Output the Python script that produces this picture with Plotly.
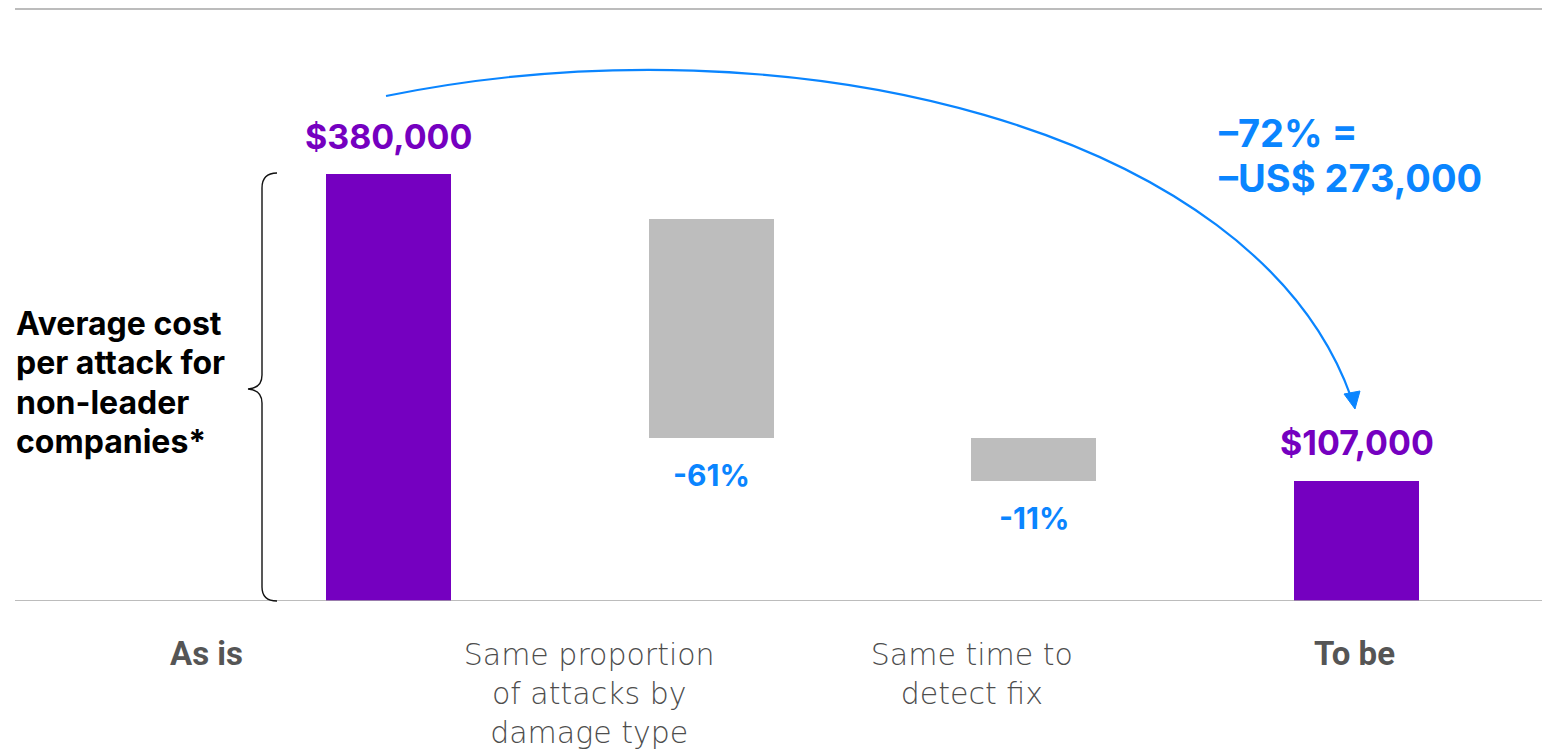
import plotly.graph_objects as go

# ---------------- data ----------------
categories = ["As is",
              "Same proportion<br>of attacks by<br>damage type",
              "Same time to<br>detect fix",
              "To be"]
category_bold = [True, False, False, True]
bar_kind = ["total", "change", "change", "total"]
bar_top = [380000, 340000, 145000, 107000]
bar_base = [0, 145000, 107000, 0]
bar_labels = ["$380,000", "-61%", "-11%", "$107,000"]
total_change_lines = ["–72% =", "–US$ 273,000"]
side_note_lines = ["Average cost", "per attack for", "non-leader", "companies*"]

# ---------------- style ----------------
PURPLE = "#7500C0"
GRAY_BAR = "#BDBDBD"
BLUE = "#0A85FF"
LABEL_GRAY = "#4D4D4D"
RULE_GRAY = "#A6A6A6"
OFF = 8                      # page body margin
W, H = 1550, 751             # window
FW, FH = W - OFF, H - OFF    # figure size
BASE_PX = 601                # baseline pixel row in the window
PLOT_H = BASE_PX - OFF       # plot area height


def px(x, y):
    """window pixel position -> paper coordinates (decorations only)"""
    return (x - OFF) / FW, 1 - (y - OFF) / PLOT_H


def path(cmds):
    out = []
    for c in cmds:
        if isinstance(c, str):
            out.append(c)
        else:
            xp, yp = px(*c)
            out.append(f"{xp:.5f},{yp:.5f}")
    return " ".join(out)


x_idx = list(range(len(categories)))
colors = [PURPLE if k == "total" else GRAY_BAR for k in bar_kind]
heights = [t - b for t, b in zip(bar_top, bar_base)]
BOLD_SPAN = '<span style="font-family:Roboto;font-weight:700;font-size:33px;fill:#555555">{}</span>'
ticktext = [BOLD_SPAN.format(c) if b else c for c, b in zip(categories, category_bold)]

fig = go.Figure()
fig.add_trace(go.Bar(
    x=x_idx, y=heights, base=bar_base, width=0.387,
    marker=dict(color=colors, line=dict(width=0)),
    hoverinfo="skip", showlegend=False,
))
# invisible trace carrying the category axis
fig.add_trace(go.Scatter(
    x=x_idx, y=[0] * len(x_idx), xaxis="x2", mode="markers",
    marker=dict(opacity=0), hoverinfo="skip", showlegend=False,
))

annotations = []
for i, kind in enumerate(bar_kind):
    if kind == "total":
        annotations.append(dict(
            x=i, y=bar_top[i], xref="x", yref="y", text=f"<b>{bar_labels[i]}</b>",
            showarrow=False, yanchor="middle", yshift=38,
            font=dict(family="Inter", size=34, color=PURPLE, weight=800)))
    else:
        annotations.append(dict(
            x=i, y=bar_base[i], xref="x", yref="y", text=f"<b>{bar_labels[i]}</b>",
            showarrow=False, yanchor="middle", yshift=-37,
            font=dict(family="Inter", size=30, color=BLUE, weight=800)))

for line, ypix in zip(total_change_lines, [133, 177.5]):
    xp, yp = px(1217, ypix)
    annotations.append(dict(
        x=xp, y=yp, xref="paper", yref="paper", text=f"<b>{line}</b>",
        showarrow=False, xanchor="left", yanchor="middle",
        font=dict(family="Inter", size=38, color=BLUE, weight=800)))

for k, line in enumerate(side_note_lines):
    xp, yp = px(14, 323 + 39.5 * k)
    annotations.append(dict(
        x=xp, y=yp, xref="paper", yref="paper", text=f"<b>{line}</b>",
        showarrow=False, xanchor="left", yanchor="middle", align="left",
        font=dict(family="Inter", size=32, color="#000000", weight=800)))

shapes = []
# top rule
x0p, y0p = px(15, 9)
x1p, _ = px(1545, 9)
shapes.append(dict(type="line", xref="paper", yref="paper", x0=x0p, x1=x1p, y0=y0p, y1=y0p,
                   line=dict(color=RULE_GRAY, width=1.5)))
# baseline
shapes.append(dict(type="line", xref="paper", yref="y", x0=x0p, x1=x1p, y0=0, y1=0,
                   line=dict(color=RULE_GRAY, width=1.5)))
# curly brace
brace = path(["M", (277, 173), "Q", (262, 173), (262, 188), "L", (262, 375),
              "Q", (262, 388), (248, 389), "Q", (262, 390), (262, 403),
              "L", (262, 587), "Q", (262, 601), (277, 601)])
shapes.append(dict(type="path", xref="paper", yref="paper", path=brace,
                   line=dict(color="#111111", width=1.4)))
# curved arrow
arc = path(["M", (386, 96), "C", (790, 14), (1255, 128), (1351, 397)])
shapes.append(dict(type="path", xref="paper", yref="paper", path=arc,
                   line=dict(color=BLUE, width=2.2)))
head = path(["M", (1344, 394), "L", (1360, 391), "L", (1355, 409), "Z"])
shapes.append(dict(type="path", xref="paper", yref="paper", path=head,
                   fillcolor=BLUE, line=dict(color=BLUE, width=1)))

# axis ranges: figure spans window pixels OFF..W
BAR_X0, BAR_STEP = 388.5, 322.67      # pixel centre of first bar, spacing
LAB_X0, LAB_STEP = 206.5, 382.67      # pixel centre of first label, spacing

fig.update_layout(
    width=FW, height=FH,
    margin=dict(l=0, r=0, t=0, b=FH - PLOT_H, pad=0, autoexpand=False),
    paper_bgcolor="white", plot_bgcolor="white",
    showlegend=False, bargap=0,
    xaxis=dict(range=[(OFF - BAR_X0) / BAR_STEP, (W - BAR_X0) / BAR_STEP],
               visible=False, fixedrange=True, automargin=False),
    xaxis2=dict(overlaying="x", anchor="y", side="bottom",
                range=[(OFF - LAB_X0) / LAB_STEP, (W - LAB_X0) / LAB_STEP],
                tickvals=x_idx, ticktext=ticktext, automargin=False,
                showgrid=False, zeroline=False, showline=False, ticks="",
                ticklabelstandoff=33,
                tickfont=dict(family="DejaVu Sans", size=30, color=LABEL_GRAY, weight=300)),
    yaxis=dict(range=[0, 380000 * PLOT_H / 427], visible=False, fixedrange=True,
               automargin=False),
    annotations=annotations,
    shapes=shapes,
)

fig.write_html("out.html")
